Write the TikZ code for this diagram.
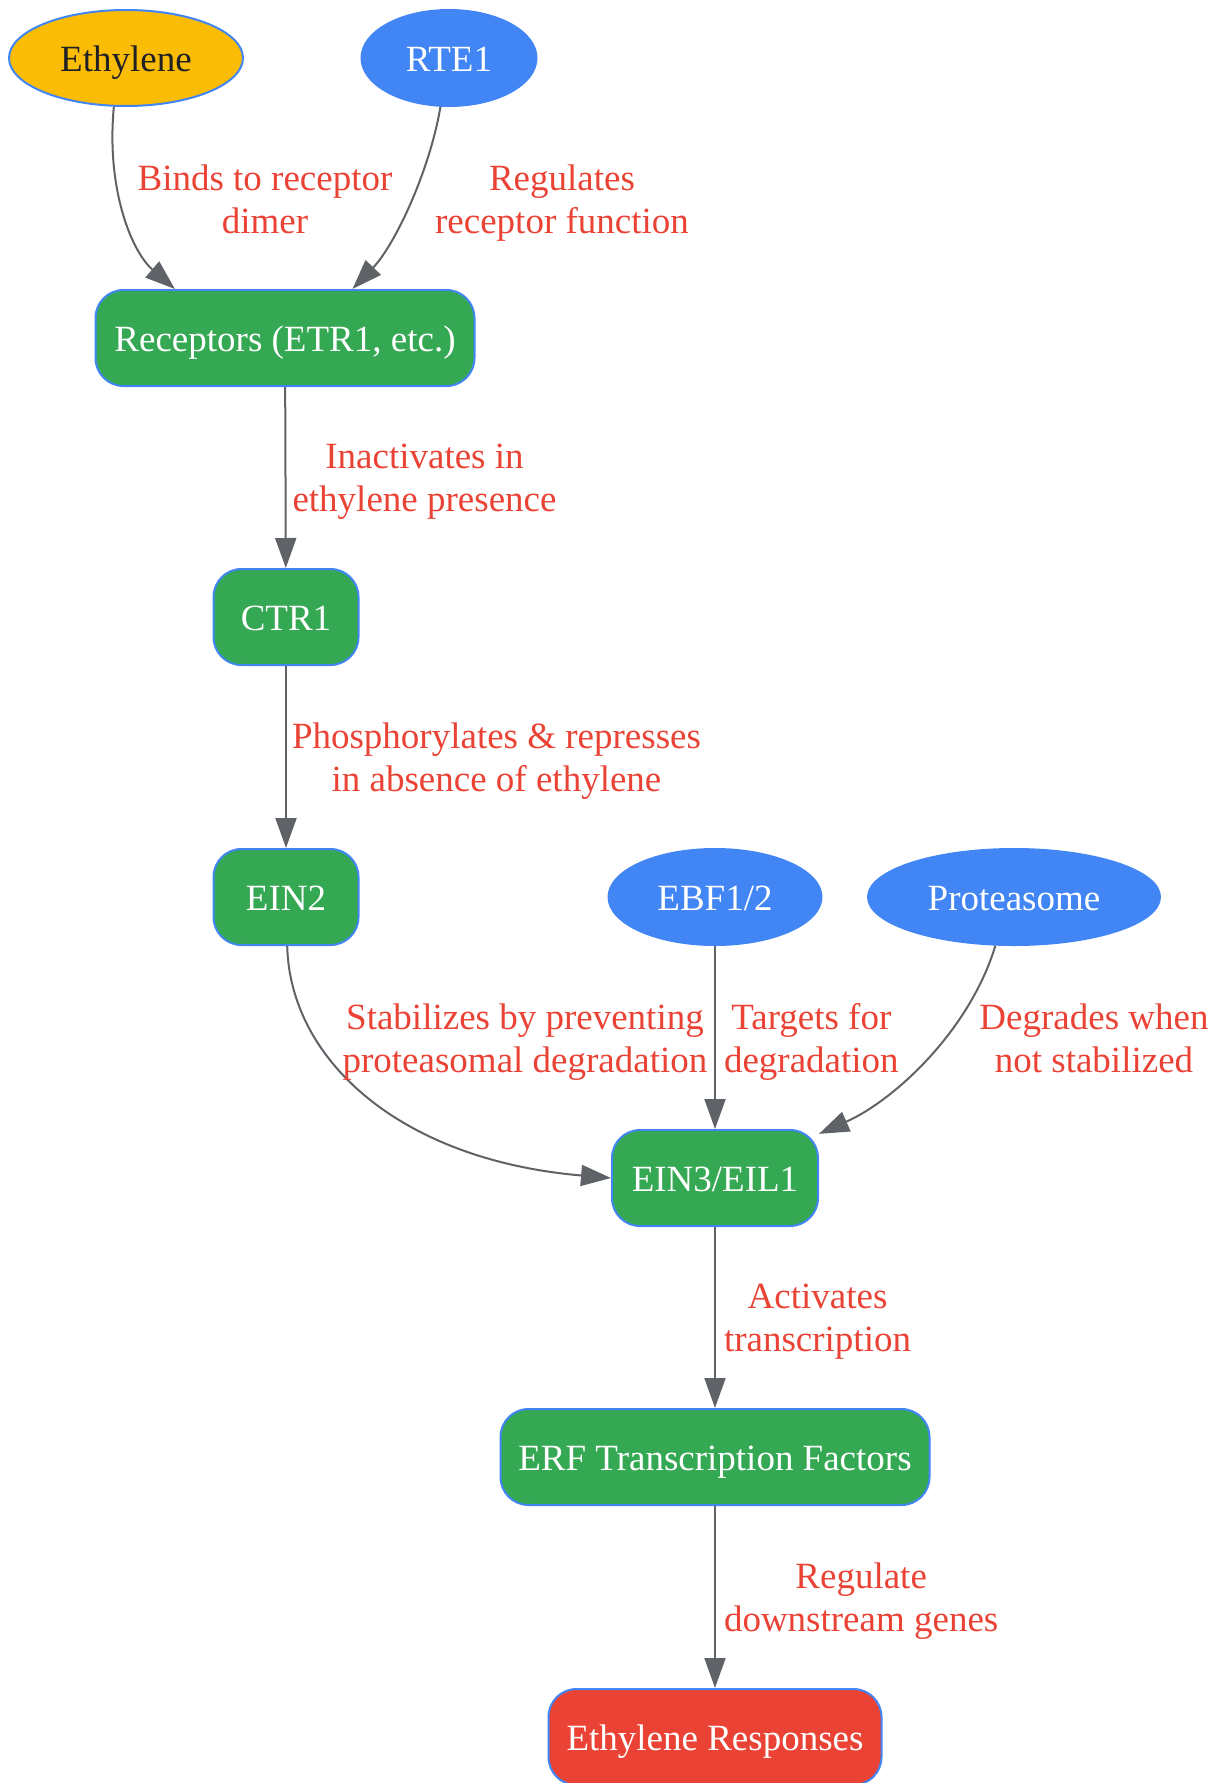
\documentclass[tikz,border=0pt]{standalone}
\usepackage{fontspec}
\setmainfont{Liberation Serif}
\usetikzlibrary{shapes.geometric,arrows.meta}
\definecolor{gyellow}{HTML}{FBBC05}
\definecolor{gblue}{HTML}{4285F4}
\definecolor{ggreen}{HTML}{34A853}
\definecolor{gred}{HTML}{EA4335}
\definecolor{ggrey}{HTML}{5F6368}
\definecolor{gdark}{HTML}{202124}
\tikzset{
  nodebase/.style={draw=gblue, line width=2pt, inner sep=0pt, minimum height=96pt,
    text height=26pt, text depth=0pt, font=\fontsize{37}{43}\selectfont, text=white},
  oval/.style={nodebase, ellipse, fill=gblue},
  pathbox/.style={nodebase, rectangle, rounded corners=28pt, fill=ggreen},
  lbl/.style={text=gred, align=center, inner sep=0pt, font=\fontsize{37}{43}\selectfont},
  link/.style={draw=ggrey, line width=2pt, -{Triangle[length=30pt,width=21pt]}}
}

\begin{document}
\begin{tikzpicture} [x=1pt, y=1pt]
  \useasboundingbox (0,0) rectangle (1214,-1783);
  \path  (126,-58)   node[oval, fill=gyellow, text=gdark, minimum width=234pt](eth) {Ethylene}
         (449,-58)   node[oval, minimum width=175pt](rte) {RTE1}
         (285,-338)  node[pathbox, minimum width=379pt](rec) {Receptors (ETR1, etc.)}
         (286,-617)  node[pathbox, minimum width=145pt](ctr) {CTR1}
         (286,-897)  node[pathbox, minimum width=145pt](ein2) {EIN2}
         (715,-897)  node[oval, minimum width=213pt](ebf) {EBF1/2}
         (1014,-897) node[oval, minimum width=292pt](prot) {Proteasome}
         (715,-1178) node[pathbox, minimum width=206pt](ein3) {EIN3/EIL1}
         (715,-1457) node[pathbox, minimum width=429pt](erf) {ERF Transcription Factors}
         (715,-1737) node[pathbox, fill=gred, minimum width=333pt](resp) {Ethylene Responses};
  \draw [link] (eth.256) .. controls (106,-190) and (132,-252) .. (rec.156);
  \draw [link] (rte.260) .. controls (430,-170) and (395,-245) .. (rec.36);
  \draw [link] (rec) to node [pos=0.5,right=6pt,yshift=-4pt,lbl](lina){Inactivates in\\ethylene presence} (ctr);
  \draw [link] (ctr) to node [pos=0.5,right=5pt,yshift=-4pt,lbl](lphos){Phosphorylates \& represses\\in absence of ethylene} (ein2);
  \draw [link] (ein2) .. controls (290,-1060) and (400,-1160) .. (ein3.west);
  \draw [link] (ebf) to node [pos=0.5,right=8pt,yshift=-4pt,lbl](ltarg){Targets for\\degradation} (ein3);
  \draw [link] (prot.249) .. controls (970,-1030) and (895,-1100) .. (ein3.23);
  \draw [link] (ein3) to node [pos=0.5,right=8pt,yshift=-4pt,lbl](lact){Activates\\transcription} (erf);
  \draw [link] (erf) to node [pos=0.5,right=8pt,yshift=-4pt,lbl](lreg){Regulate\\downstream genes} (resp);
  \path  (265,-199)  node[lbl](lbind) {Binds to receptor\\dimer}
         (562,-203)  node[lbl](lrte) {Regulates\\receptor function}
         (525,-1042) node[lbl](lstab) {Stabilizes by preventing\\proteasomal degradation}
         (1094,-1038) node[lbl](ldeg) {Degrades when\\not stabilized};
\end{tikzpicture}
\end{document}
